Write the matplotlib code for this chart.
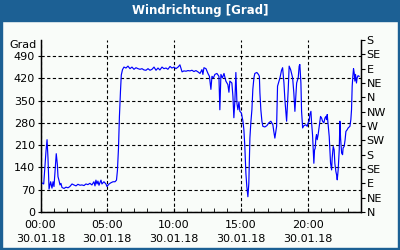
import matplotlib
matplotlib.use("Agg")
import matplotlib.pyplot as plt
from matplotlib.patches import Rectangle

hours = [0.0, 0.24, 0.34, 0.41, 0.49, 0.56, 0.64, 0.76, 0.86, 0.94, 1.01, 1.09, 1.18, 1.26, 1.31, 1.38,
         1.46, 1.53, 1.61, 1.76, 1.91, 2.06, 2.2, 2.36, 2.5, 2.66, 2.8, 2.96, 3.1, 3.26, 3.4, 3.55,
         3.7, 3.85, 4.0, 4.08, 4.15, 4.23, 4.3, 4.38, 4.45, 4.53, 4.6, 4.75, 4.9, 4.98, 5.13, 5.28,
         5.43, 5.58, 5.69, 5.76, 5.84, 5.91, 5.99, 6.05, 6.14, 6.25, 6.4, 6.55, 6.7, 6.85, 7.0, 7.15,
         7.3, 7.45, 7.6, 7.75, 7.9, 8.05, 8.2, 8.35, 8.5, 8.65, 8.8, 8.94, 9.1, 9.24, 9.4, 9.54,
         9.7, 9.84, 10.0, 10.14, 10.3, 10.44, 10.6, 10.74, 10.9, 11.04, 11.19, 11.34, 11.49, 11.64,
         11.79, 11.94, 12.09, 12.16, 12.24, 12.39, 12.54, 12.65, 12.76, 12.84, 12.95, 13.06, 13.21,
         13.36, 13.43, 13.51, 13.62, 13.74, 13.88, 14.03, 14.11, 14.18, 14.33, 14.41, 14.48, 14.56,
         14.63, 14.71, 14.78, 14.86, 14.93, 15.04, 15.16, 15.23, 15.3, 15.38, 15.45, 15.53, 15.6,
         15.68, 15.75, 15.83, 15.9, 15.98, 16.05, 16.2, 16.32, 16.39, 16.43, 16.5, 16.58, 16.65,
         16.8, 16.95, 17.1, 17.25, 17.4, 17.47, 17.55, 17.68, 17.75, 17.93, 18.05, 18.13, 18.23,
         18.3, 18.43, 18.55, 18.62, 18.73, 18.88, 18.97, 19.05, 19.18, 19.3, 19.37, 19.42, 19.5,
         19.55, 19.63, 19.72, 19.87, 19.97, 20.04, 20.12, 20.17, 20.25, 20.3, 20.37, 20.42, 20.47,
         20.52, 20.57, 20.62, 20.67, 20.72, 20.79, 20.87, 20.97, 21.05, 21.12, 21.22, 21.3, 21.37,
         21.42, 21.47, 21.54, 21.62, 21.67, 21.72, 21.8, 21.84, 21.92, 21.99, 22.04, 22.12, 22.17,
         22.22, 22.29, 22.37, 22.42, 22.47, 22.55, 22.62, 22.66, 22.74, 22.81, 22.87, 22.96, 23.04,
         23.17, 23.24, 23.29, 23.34, 23.39, 23.44, 23.49, 23.54, 23.59, 23.66, 23.71, 23.78, 23.86]
degrees = [94, 88, 150, 190, 227, 170, 72, 95, 75, 95, 80, 130, 183, 150, 111, 100,
           85, 90, 77, 74, 78, 76, 80, 88, 85, 82, 87, 84, 85, 83, 88, 86,
           90, 85, 95, 82, 100, 88, 97, 84, 92, 100, 88, 95, 88, 80, 88, 92,
           95, 95, 100, 130, 200, 300, 380, 430, 447, 455, 452, 458, 450, 455, 448, 453,
           450, 448, 450, 446, 445, 450, 445, 448, 455, 445, 452, 446, 455, 450, 452, 448,
           457, 452, 455, 450, 455, 462, 440, 443, 442, 444, 443, 445, 441, 444,
           440, 435, 447, 432, 453, 450, 435, 426, 385, 426, 421, 432, 435,
           426, 321, 432, 421, 435, 411, 400, 376, 411, 405, 363, 296, 353,
           438, 341, 321, 346, 316, 311, 285, 258, 206, 122, 80, 48, 90,
           232, 280, 321, 385, 421, 435, 438, 432, 426, 374, 321, 285, 269,
           267, 271, 280, 285, 274, 253, 232, 269, 395, 421, 445, 453, 405,
           353, 285, 385, 458, 447, 421, 374, 316, 405, 422, 458, 463, 405,
           316, 264, 271, 274, 269, 280, 285, 306, 316, 280, 243, 195, 153,
           195, 200, 232, 243, 227, 243, 269, 300, 295, 285, 280, 295, 300,
           290, 306, 274, 237, 195, 153, 132, 169, 206, 195, 153, 127, 117,
           101, 132, 195, 285, 232, 185, 180, 201, 206, 227, 253, 258, 264,
           269, 290, 321, 395, 426, 450, 437, 411, 432, 405, 421, 428, 426]

title = "Windrichtung [Grad]"
y_ticks = [0, 70, 140, 210, 280, 350, 420, 490]
x_ticks = [0, 5, 10, 15, 20]
x_labels = ["00:00\n30.01.18", "05:00\n30.01.18", "10:00\n30.01.18", "15:00\n30.01.18", "20:00\n30.01.18"]
dir_ticks = [0, 45, 90, 135, 180, 225, 270, 315, 360, 405, 450, 495, 540]
dir_labels = ["N", "NE", "E", "SE", "S", "SW", "W", "NW", "N", "NE", "E", "SE", "S"]

W, H = 400, 250
blue = "#1c6094"
fig = plt.figure(figsize=(W / 100, H / 100), dpi=100, facecolor="#f9fcf9")

# frame
fig.patches.append(Rectangle((0, (H - 21) / H), 1, 21 / H, transform=fig.transFigure, color=blue, zorder=0))
fig.patches.append(Rectangle((0, 0), 2 / W, 1, transform=fig.transFigure, color=blue, zorder=0))
fig.patches.append(Rectangle((1 - 2 / W, 0), 2 / W, 1, transform=fig.transFigure, color=blue, zorder=0))
fig.patches.append(Rectangle((0, 0), 1, 2 / H, transform=fig.transFigure, color=blue, zorder=0))
fig.text(0.5, (H - 10.5) / H, title, color="white", fontsize=8.5, fontweight="bold",
         ha="center", va="center", family="DejaVu Sans")

x0, x1 = 40.5, 361
y0, y1 = 212, 40
ax = fig.add_axes([x0 / W, (H - y0) / H, (x1 - x0) / W, (y0 - y1) / H])
ax.set_facecolor("none")
ax.plot(hours, degrees, color="#0000ff", lw=0.85, zorder=3)
ax.set_xlim(0, 24)
ax.set_ylim(0, 540)

ax.set_yticks(y_ticks)
ax.set_yticklabels([str(v) for v in y_ticks])
ax.set_xticks(x_ticks)
ax.set_xticklabels(x_labels, linespacing=1.5)
ax.set_xticks(range(0, 25), minor=True)
ax.grid(True, color="black", linestyle=(0, (2.9, 2.2)), lw=0.8)
ax.spines["top"].set_visible(False)
for s in ["left", "bottom", "right"]:
    ax.spines[s].set_color("black")
    ax.spines[s].set_linewidth(1.0)

ax.tick_params(axis="y", direction="out", length=2, pad=2, labelsize=8, colors="black")
ax.tick_params(axis="x", which="both", direction="in", length=3, pad=6, labelsize=8)

ax.text(-0.012, 525, "Grad", transform=ax.get_yaxis_transform(), ha="right", va="center", fontsize=8)

ax2 = ax.twinx()
ax2.set_ylim(0, 540)
ax2.set_yticks(dir_ticks)
ax2.set_yticklabels(dir_labels)
ax2.tick_params(axis="y", direction="out", length=3, pad=1, labelsize=8)
ax2.spines["top"].set_visible(False)

fig.savefig("out.png", dpi=100, facecolor=fig.get_facecolor())
